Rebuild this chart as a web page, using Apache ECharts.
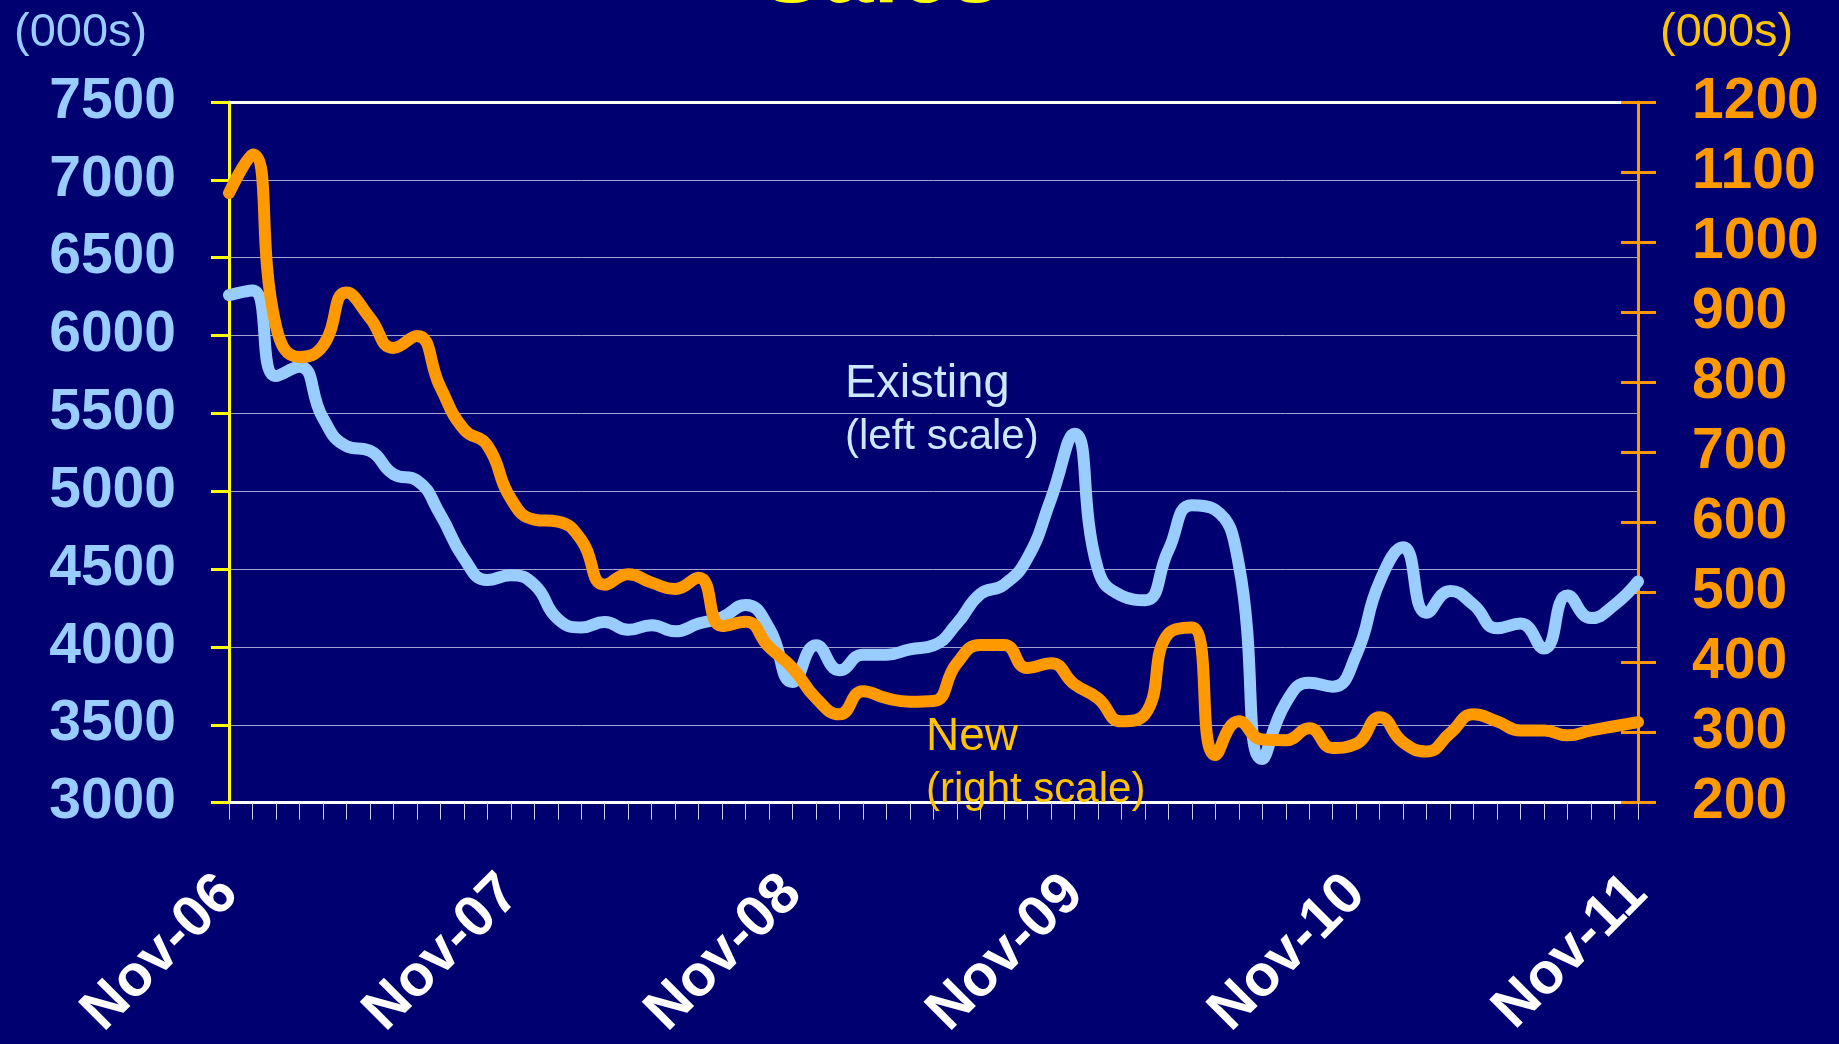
<!DOCTYPE html>
<html>
<head>
<meta charset="utf-8">
<title>Existing and New Sales</title>
<script src="https://cdn.jsdelivr.net/npm/echarts@6/dist/echarts.min.js"></script>
<style>
  html, body { margin: 0; padding: 0; background: #000070; }
  #chart { width: 1839px; height: 1044px; }
</style>
</head>
<body>
<div id="chart"></div>
<script>
// Monthly categories, Nov-06 .. Nov-11
const months = [
  'Nov-06','Dec-06','Jan-07','Feb-07','Mar-07','Apr-07','May-07','Jun-07','Jul-07','Aug-07','Sep-07','Oct-07',
  'Nov-07','Dec-07','Jan-08','Feb-08','Mar-08','Apr-08','May-08','Jun-08','Jul-08','Aug-08','Sep-08','Oct-08',
  'Nov-08','Dec-08','Jan-09','Feb-09','Mar-09','Apr-09','May-09','Jun-09','Jul-09','Aug-09','Sep-09','Oct-09',
  'Nov-09','Dec-09','Jan-10','Feb-10','Mar-10','Apr-10','May-10','Jun-10','Jul-10','Aug-10','Sep-10','Oct-10',
  'Nov-10','Dec-10','Jan-11','Feb-11','Mar-11','Apr-11','May-11','Jun-11','Jul-11','Aug-11','Sep-11','Oct-11',
  'Nov-11'
];

// Existing sales, thousands (left scale)
const existingSales = [
  6260, 6290, 5740, 5800, 5470, 5290, 5260, 5110, 5070, 4850, 4570, 4430,
  4460, 4400, 4180, 4125, 4160, 4110, 4140, 4100, 4150, 4190, 4270, 4120,
  3775, 4010, 3850, 3950, 3950, 3985, 4010, 4150, 4340, 4400, 4570, 4950,
  5370, 4500, 4330, 4300, 4620, 4910, 4880, 4530, 3280, 3640, 3770, 3745,
  3950, 4420, 4640, 4220, 4360, 4270, 4120, 4150, 3990, 4330, 4185, 4270,
  4420
];

// New sales, thousands (right scale)
const newSales = [
  1070, 1125, 880, 836, 852, 928, 892, 849, 866, 793, 733, 710,
  634, 604, 601, 575, 511, 526, 514, 505, 521, 452, 458, 422,
  392, 349, 326, 359, 349, 344, 345, 399, 425, 425, 392, 399,
  369, 349, 316, 326, 441, 450, 268, 316, 290, 289, 306, 278,
  284, 322, 286, 273, 299, 326, 316, 303, 303, 296, 303, 309,
  315
];

// Axis ranges
const leftScale = { min: 3000, max: 7500, step: 500 };
const rightScale = { min: 200, max: 1200, step: 100 };

const FONT = "'Liberation Sans', Arial, sans-serif";
const BG = '#000070';
const BLUE = '#99CCFF';
const ORANGE = '#FF9900';
const GOLD = '#FFC400';
const PALE = '#CCE8FF';

const plain = v => String(v);

const chart = echarts.init(document.getElementById('chart'), null, { renderer: 'canvas' });

chart.setOption({
  backgroundColor: BG,
  animation: false,
  title: [
    {
      // heading sits above the page edge; only its lowest strokes show
      text: 'Sales', left: 761, top: -69, padding: 0,
      textStyle: { color: '#FFFF00', fontFamily: FONT, fontSize: 92, fontWeight: 'bold' }
    },
    {
      text: '(000s)', left: 14, top: 10, padding: 0,
      textStyle: { color: BLUE, fontFamily: FONT, fontSize: 47, fontWeight: 'normal' }
    },
    {
      text: '(000s)', left: 1660, top: 10, padding: 0,
      textStyle: { color: GOLD, fontFamily: FONT, fontSize: 47, fontWeight: 'normal' }
    },
    {
      text: '{a|Existing}\n{b|(left scale)}', left: 845, top: 356, padding: 0,
      textStyle: {
        fontWeight: 'normal',
        rich: {
          a: { color: PALE, fontFamily: FONT, fontSize: 47, fontWeight: 'normal', lineHeight: 56 },
          b: { color: PALE, fontFamily: FONT, fontSize: 42, fontWeight: 'normal', lineHeight: 50 }
        }
      }
    },
    {
      text: '{a|New}\n{b|(right scale)}', left: 926, top: 710, padding: 0,
      textStyle: {
        fontWeight: 'normal',
        rich: {
          a: { color: GOLD, fontFamily: FONT, fontSize: 46, fontWeight: 'normal', lineHeight: 54 },
          b: { color: GOLD, fontFamily: FONT, fontSize: 42, fontWeight: 'normal', lineHeight: 52 }
        }
      }
    }
  ],
  grid: { left: 229, right: 201, top: 102, bottom: 229, containLabel: false },
  xAxis: [
    {
      type: 'category',
      data: months,
      boundaryGap: false,
      position: 'bottom',
      axisLine: { show: true, lineStyle: { color: '#FFFFFF', width: 3 } },
      axisTick: { show: true, interval: 0, length: 17, lineStyle: { color: '#D0D0F0', width: 1 } },
      axisLabel: {
        interval: 11,
        rotate: 45,
        margin: 82,
        align: 'right',
        verticalAlign: 'middle',
        padding: [6, 0, 0, 0],
        color: '#FFFFFF',
        fontFamily: FONT,
        fontSize: 58,
        fontWeight: 'bold'
      },
      splitLine: { show: false }
    },
    {
      type: 'category',
      data: months,
      boundaryGap: false,
      position: 'top',
      axisLine: { show: true, lineStyle: { color: '#FFFFFF', width: 3 } },
      axisTick: { show: false },
      axisLabel: { show: false },
      splitLine: { show: false }
    }
  ],
  yAxis: [
    {
      type: 'value',
      position: 'left',
      min: leftScale.min, max: leftScale.max, interval: leftScale.step,
      axisLine: { show: true, lineStyle: { color: '#FFFF00', width: 3 } },
      axisTick: { show: true, inside: false, length: 18, lineStyle: { color: '#FFFF00', width: 3 } },
      axisLabel: { margin: 53, color: BLUE, fontFamily: FONT, fontSize: 57, fontWeight: 'bold', formatter: plain },
      splitLine: { show: true, lineStyle: { color: '#A4A4D4', width: 1 } }
    },
    {
      type: 'value',
      position: 'right',
      min: rightScale.min, max: rightScale.max, interval: rightScale.step,
      axisLine: { show: true, lineStyle: { color: ORANGE, width: 3 } },
      axisTick: { show: true, inside: false, length: 18, lineStyle: { color: ORANGE, width: 3 } },
      axisLabel: { margin: 54, color: ORANGE, fontFamily: FONT, fontSize: 57, fontWeight: 'bold', formatter: plain },
      splitLine: { show: false }
    },
    {
      // inner half of the cross ticks on the right scale
      type: 'value',
      position: 'right',
      min: rightScale.min, max: rightScale.max, interval: rightScale.step,
      axisLine: { show: false },
      axisTick: { show: true, inside: true, length: 17, lineStyle: { color: ORANGE, width: 3 } },
      axisLabel: { show: false },
      splitLine: { show: false }
    }
  ],
  series: [
    {
      name: 'Existing',
      type: 'line',
      xAxisIndex: 0,
      yAxisIndex: 0,
      data: existingSales,
      smooth: 0.5,
      showSymbol: false,
      symbol: 'none',
      lineStyle: { color: BLUE, width: 12, cap: 'round', join: 'round' },
      z: 3
    },
    {
      name: 'New',
      type: 'line',
      xAxisIndex: 0,
      yAxisIndex: 1,
      data: newSales,
      smooth: 0.5,
      showSymbol: false,
      symbol: 'none',
      lineStyle: { color: ORANGE, width: 12, cap: 'round', join: 'round' },
      z: 4
    }
  ]
});
</script>
</body>
</html>
